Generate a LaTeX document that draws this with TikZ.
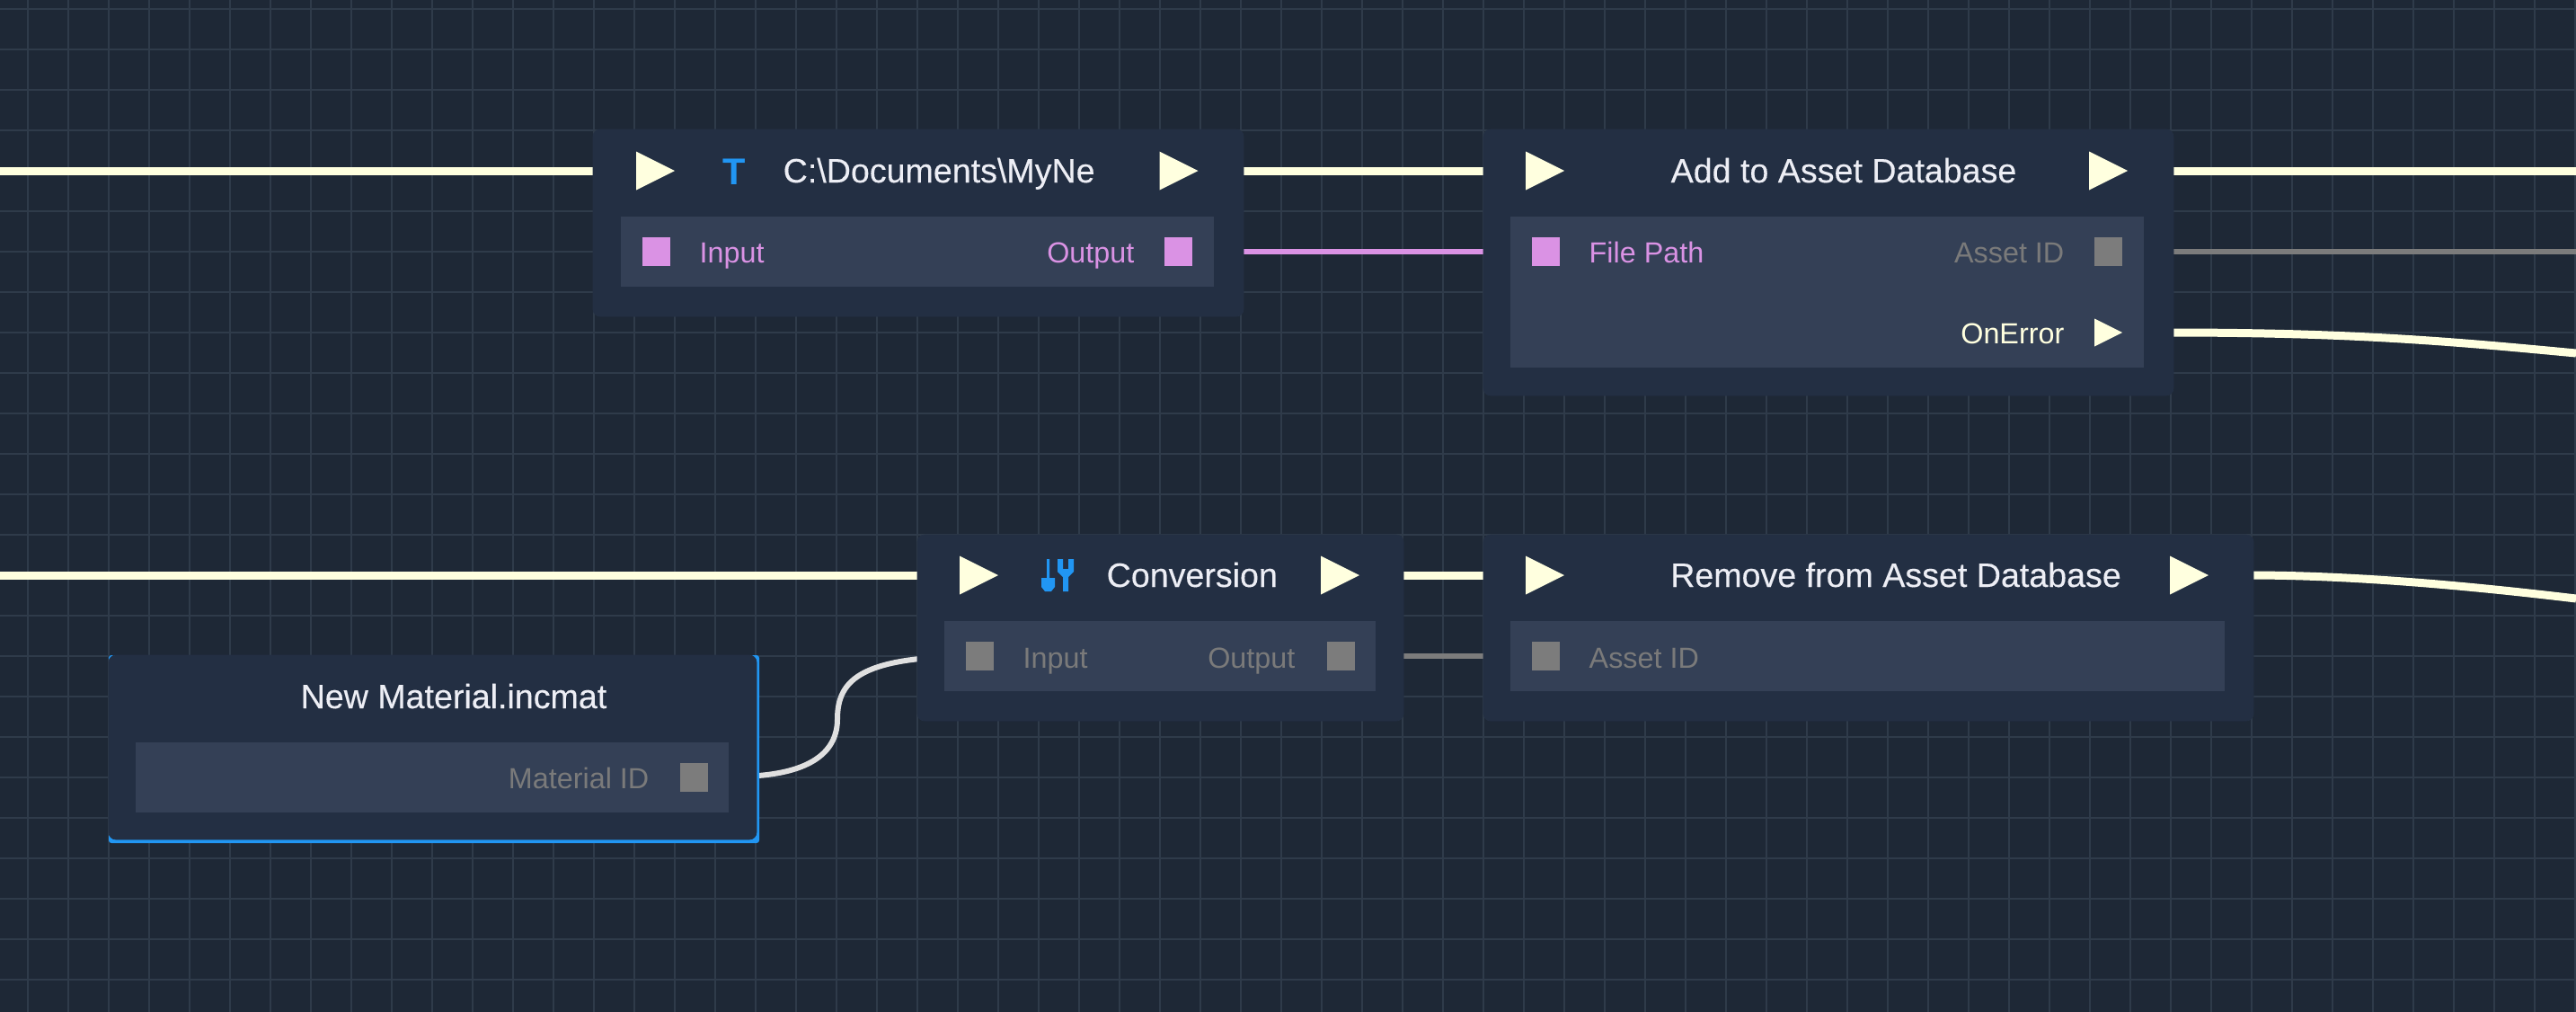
\documentclass[tikz,border=0pt]{standalone}
\usepackage{fontspec}
\setmainfont{Liberation Sans}
\newfontfamily\titlefont[FakeBold=0.25]{Liberation Sans}
\usetikzlibrary{backgrounds, shapes.geometric}
\definecolor{canvas}{HTML}{1E2836}
\definecolor{gridc}{HTML}{2F3B4A}
\definecolor{nodebg}{HTML}{232F43}
\definecolor{rowbg}{HTML}{344056}
\definecolor{exec}{HTML}{FFFFDF}
\definecolor{pinpink}{HTML}{DA92E4}
\definecolor{pingrey}{HTML}{7C7C7C}
\definecolor{labgrey}{HTML}{7A7A7A}
\definecolor{titlec}{HTML}{EDEEF5}
\definecolor{selblue}{HTML}{2196F3}
\definecolor{wirew}{HTML}{E0E0E0}
\begin{document}
\begin{tikzpicture}[y=-1cm,
      body/.style={fill=nodebg, draw=nodebg!90!gridc, line width=0.2pt, rounded corners=0.08cm, inner sep=0pt},
      row/.style={fill=rowbg, inner sep=0pt, minimum height=0.78cm},
      tri/.style={isosceles triangle, isosceles triangle stretches, fill=exec, inner sep=0pt, outer sep=0pt,
                  anchor=lower side, minimum width=0.43cm, minimum height=0.43cm},
      smalltri/.style={tri, minimum width=0.31cm, minimum height=0.31cm},
      pin/.style={inner sep=0pt, minimum width=0.31cm, minimum height=0.32cm},
      pinP/.style={pin, fill=pinpink},
      pinG/.style={pin, fill=pingrey},
      title/.style={anchor=base, inner sep=0pt, text=titlec, font=\titlefont\fontsize{10.7}{12}\selectfont},
      lab/.style={inner sep=0pt, font=\fontsize{9.2}{11}\selectfont},
      labP/.style={lab, text=pinpink},
      labG/.style={lab, text=labgrey},
      execw/.style={exec, line width=0.09cm},
      dataw/.style={line width=0.06cm}
    ]
    \useasboundingbox (0,0) rectangle (28.67,11.25);

    % path node
    \node[body, minimum width=7.24cm, minimum height=2.08cm] (pathbody) at (10.22,2.48) {};
    \node[row, minimum width=6.60cm] (pathrow) at (10.21,2.80) {};
    \node[tri] (pathin) at (7.08,1.90) {};
    \node[tri] (pathout) at (12.905,1.90) {};
    \node[inner sep=0pt, anchor=base, text=selblue, font=\fontsize{11.8}{12}\selectfont\bfseries] (pathicon) at (8.17,2.05) {T};
    \node[title, anchor=base west] (pathtitle) at (8.71,2.03) {C:\textbackslash Documents\textbackslash MyNe};
    \node[pinP] (pathpin) at (7.305,2.80) {};
    \node[pinP] (pathpout) at (13.115,2.80) {};
    \node[labP, anchor=base west] (pathlin) at (7.78,2.92) {Input};
    \node[labP, anchor=base east] (pathlout) at (12.63,2.92) {Output};

    % add node
    \node[body, minimum width=7.68cm, minimum height=2.96cm] (addbody) at (20.35,2.92) {};
    \node[row, minimum width=7.05cm, minimum height=1.68cm] (addrow) at (20.335,3.25) {};
    \node[tri] (addin) at (16.98,1.90) {};
    \node[tri] (addout) at (23.25,1.90) {};
    \node[title] (addtitle) at (20.52,2.03) {Add to Asset Database};
    \node[pinP] (addpin) at (17.20,2.80) {};
    \node[pinG] (addpout) at (23.465,2.80) {};
    \node[smalltri] (adderr) at (23.31,3.70) {};
    \node[labP, anchor=base west] (addlin) at (17.68,2.92) {File Path};
    \node[labG, anchor=base east] (addlout) at (22.98,2.92) {Asset ID};
    \node[lab, text=exec, anchor=base east] (addlerr) at (22.98,3.82) {OnError};

    % conversion node
    \node[body, minimum width=5.41cm, minimum height=2.07cm] (convbody) at (12.915,6.985) {};
    \node[row, minimum width=4.80cm] (convrow) at (12.91,7.30) {};
    \node[tri] (convin) at (10.68,6.40) {};
    \node[tri] (convout) at (14.70,6.40) {};
    \node[title, anchor=base west] (convtitle) at (12.31,6.53) {Conversion};
    \node[pinG] (convpin) at (10.90,7.30) {};
    \node[pinG] (convpout) at (14.925,7.30) {};
    \node[labG, anchor=base west] (convlin) at (11.38,7.43) {Input};
    \node[labG, anchor=base east] (convlout) at (14.42,7.43) {Output};
    % spoon and fork
    \fill[selblue] (11.65,6.22) rectangle (11.68,6.43)
      (11.59,6.43) -- (11.74,6.43) -- (11.74,6.53) -- (11.70,6.58) -- (11.63,6.58) -- (11.59,6.53) -- cycle
      (11.77,6.22) -- (11.83,6.22) -- (11.83,6.33) -- (11.89,6.33) -- (11.89,6.22) -- (11.95,6.22)
      -- (11.95,6.36) -- (11.89,6.42) -- (11.89,6.58) -- (11.83,6.58) -- (11.83,6.42) -- (11.77,6.36) -- cycle;

    % remove node
    \node[body, minimum width=8.57cm, minimum height=2.07cm] (rembody) at (20.795,6.985) {};
    \node[row, minimum width=7.95cm] (remrow) at (20.785,7.30) {};
    \node[tri] (remin) at (16.98,6.40) {};
    \node[tri] (remout) at (24.15,6.40) {};
    \node[title] (remtitle) at (21.10,6.53) {Remove from Asset Database};
    \node[pinG] (rempin) at (17.20,7.30) {};
    \node[labG, anchor=base west] (remlin) at (17.68,7.43) {Asset ID};

    % material node
    \node[fill=selblue, rounded corners=0.03cm, inner sep=0pt, minimum width=7.24cm, minimum height=2.09cm] (matsel) at (4.83,8.335) {};
    \node[body, minimum width=7.21cm, minimum height=2.05cm] (matbody) at (4.815,8.315) {};
    \node[row, minimum width=6.60cm] (matrow) at (4.81,8.65) {};
    \node[title] (mattitle) at (5.05,7.88) {New Material.incmat};
    \node[pinG] (matpout) at (7.72,8.65) {};
    \node[labG, anchor=base east] (matlout) at (7.23,8.77) {Material ID};

    \coordinate (farL1) at (0,1.90);
    \coordinate (farL2) at (0,6.40);
    \coordinate (farR1) at (28.67,1.90);
    \coordinate (farR2) at (28.67,2.80);
    \coordinate (farR3) at (28.67,3.93);
    \coordinate (farR4) at (28.67,6.66);

    \begin{scope}[on background layer]
      \fill[canvas] (-0.1,-0.1) rectangle (28.8,11.4);
      \foreach \gx in {0,...,63}
        \draw[gridc, line width=0.025cm] ({0.31+0.45*\gx},-0.1) -- ++(0,11.5);
      \foreach \gy in {0,...,24}
        \draw[gridc, line width=0.025cm] (-0.1,{0.10+0.45*\gy}) -- ++(28.9,0);

      \draw[execw] (farL1) -- (pathin.center);
      \draw[execw] (pathout.center) -- (addin.center);
      \draw[execw] (addout.center) -- (farR1);
      \draw[execw] (farL2) -- (convin.center);
      \draw[execw] (convout.center) -- (remin.center);
      \draw[execw] (adderr.center) -- ++(0.75,0) .. controls (26.2,3.70) and (27.3,3.80) .. (farR3);
      \draw[execw] (remout.center) -- ++(0.75,0) .. controls (26.2,6.40) and (27.5,6.52) .. (farR4);
      \draw[dataw, pinpink] (pathpout.center) -- (addpin.center);
      \draw[dataw, pingrey] (addpout.center) -- (farR2);
      \draw[dataw, pingrey] (convpout.center) -- (rempin.center);
      \draw[dataw, wirew] (matpout.center) -- ++(0.72,-0.02) .. controls (9.05,8.58) and (9.32,8.35) .. (9.32,8.00)
        .. controls (9.32,7.55) and (9.6,7.30) .. (convpin.center);
    \end{scope}
  \end{tikzpicture}
\end{document}
